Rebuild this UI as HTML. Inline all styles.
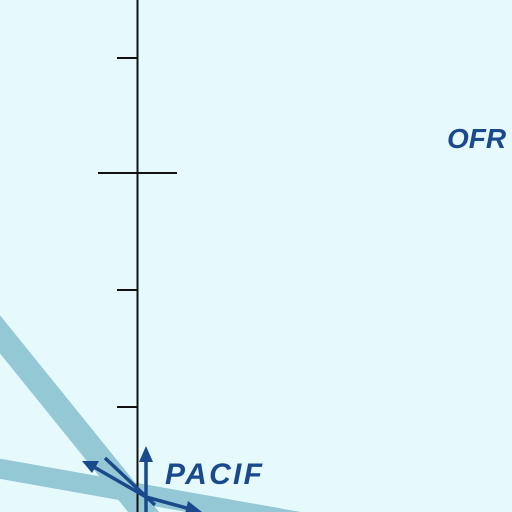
<!DOCTYPE html>
<html><head><meta charset="utf-8"><style>html,body{margin:0;padding:0;background:#e6fafd;overflow:hidden;width:512px;height:512px}svg{display:block}</style></head>
<body>
<svg width="512" height="512" viewBox="0 0 512 512" xmlns="http://www.w3.org/2000/svg">
<rect width="512" height="512" fill="#e6fafd"/>
<line x1="-10" y1="322" x2="150" y2="520" stroke="#94c8d4" stroke-width="24"/>
<line x1="-10" y1="467" x2="300" y2="522" stroke="#94c8d4" stroke-width="20"/>
<line x1="137.5" y1="0" x2="137.5" y2="512" stroke="#111" stroke-width="2"/>
<g stroke="#111" stroke-width="2">
<line x1="117" y1="58" x2="137" y2="58"/>
<line x1="98" y1="173" x2="177" y2="173"/>
<line x1="117" y1="290" x2="137" y2="290"/>
<line x1="117" y1="407" x2="137" y2="407"/>
</g>
<g stroke="#1a4a8c" stroke-width="3.5" fill="#1a4a8c">
<line x1="146" y1="512" x2="146" y2="458"/>
<polygon points="146,446 139,462 153,462" stroke="none"/>
<line x1="146" y1="497" x2="94" y2="467"/>
<polygon points="82,461 99,461 92,473" stroke="none"/>
<line x1="146" y1="497" x2="190" y2="509"/>
<polygon points="202,512 188,501 185,514" stroke="none"/>
<line x1="105" y1="458" x2="155" y2="505"/>
</g>
<text x="165" y="484" font-family="Liberation Sans, sans-serif" font-weight="bold" font-style="italic" font-size="30" textLength="97" fill="#1a4a8c">PACIF</text>
<text x="447" y="148" font-family="Liberation Sans, sans-serif" font-weight="bold" font-style="italic" font-size="28" fill="#1a4a8c">OFR</text>
</svg>
</body></html>
